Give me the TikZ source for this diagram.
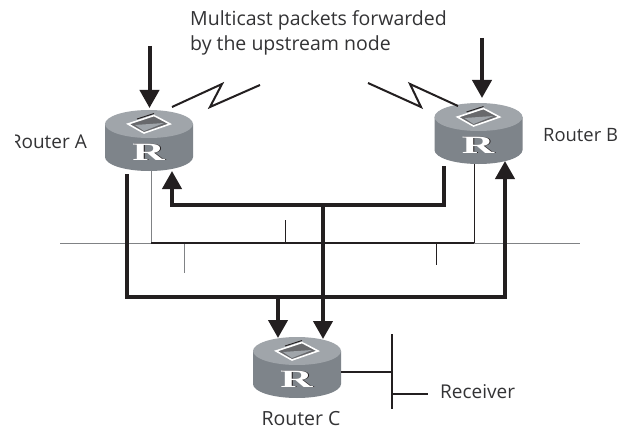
\documentclass[tikz,border=0pt]{standalone}
\usepackage{fontspec}
\setmainfont{Open Sans}
\newfontfamily\rfont{Liberation Serif}
\usetikzlibrary{arrows.meta}
\definecolor{rtop}{HTML}{A0A5AA}
\definecolor{rbody}{HTML}{7E848A}
\definecolor{rink}{HTML}{231F20}
\definecolor{rgrey}{HTML}{808285}
\definecolor{rtext}{HTML}{333335}
\tikzset{
  x=1pt,y=-1pt,
  lab/.style={font=\fontsize{19}{25}\selectfont,text=rtext,inner sep=0pt},
  labwide/.style={lab,font=\fontsize{19.5}{25}\selectfont},
  labnarrow/.style={lab,font=\fontsize{18.4}{25}\selectfont},
  heavy/.style={draw=rink,line width=4pt,miter limit=10},
  heavyarrow/.style={heavy,-{Triangle[length=18pt,width=19pt]}},
  bolt/.style={draw=rink,line width=2pt,line join=miter},
  thin/.style={draw=rink,line width=1pt},
  thingrey/.style={draw=rgrey,line width=1pt},
  medium/.style={draw=rink,line width=2pt},
  pics/router/.style={code={
    \path[fill=rbody] (-44,0) -- (-44,33) arc[start angle=180,end angle=0,x radius=44,y radius=14] -- (44,0) -- cycle;
    \path[fill=rtop] (0,0) ellipse[x radius=44,y radius=14];
    \path[fill=rink!45!rtop] (-20,0) -- (6,-9) -- (20,0) -- (-5,9) -- cycle;
    \path[fill=rtop] (-14,1) -- (15,-1) -- (-5,7) -- cycle;
    \draw[white,line width=1.6pt,line join=miter] (-21,0) -- (5,-8.5) -- (21,0) -- (-5,9) -- cycle;
    \draw[rink,line width=.9pt] (-12,-5) -- (5,-10.5);
    \node[inner sep=0pt,text=rink] (-shadow) at (.5,28.8) {\rfont\bfseries\fontsize{25}{25}\selectfont\scalebox{1.8}[1]{R}};
    \node[inner sep=0pt,text=white] (-letter) at (-.5,28) {\rfont\bfseries\fontsize{25}{25}\selectfont\scalebox{1.8}[1]{R}};
  }}
}
\begin{document}
\begin{tikzpicture}
\useasboundingbox (0,0) rectangle (619,428);
\fill[white] (0,0) rectangle (619,428);

% LAN
\coordinate (lanL) at (60,243);
\coordinate (lanA) at (151,243);
\coordinate (lanB) at (474,243);
\coordinate (lanR) at (580,243);
\coordinate (stubU) at (285,220);
\coordinate (stubUb) at (285,243);
\coordinate (stubD1) at (184,243);
\coordinate (stubD1e) at (184,273);
\coordinate (stubD2) at (436.5,243);
\coordinate (stubD2e) at (436.5,265);
\coordinate (portA) at (151,171);
\coordinate (portB) at (474,163);
\draw[thingrey] (lanL) -- (lanA) -- (portA);
\draw[thingrey] (lanB) -- (lanR);
\draw[thingrey] (stubD1) -- (stubD1e);
\draw[thin] (portB) -- (lanB);
\draw[thin] (stubU) -- (stubUb);
\draw[thin] (stubD2) -- (stubD2e);
\draw[medium,line width=1.6pt] (lanA) -- (lanB);

% routers
\pic (ra) at (149,124) {router};
\pic (rb) at (478.5,117) {router};
\pic (rc) at (297,351) {router};

% labels
\node[labwide,anchor=base west] (title1) at (190,26) {Multicast packets forwarded};
\node[labwide,anchor=base west] (title2) at (190,51) {by the upstream node};
\begin{scope}
\clip (15,120) rectangle (100,165);
\node[lab,anchor=base east] (la) at (87,148) {Router A};
\end{scope}
\node[labnarrow,anchor=base west] (lb) at (543,141) {Router B};
\node[labwide,anchor=base] (lc) at (301,425) {Router C};
\node[lab,anchor=base west] (lr) at (440,398) {Receiver};

% heavy connectors
\coordinate (inA) at (149.5,46);
\coordinate (inAt) at (149.5,108);
\coordinate (inB) at (482,38);
\coordinate (inBt) at (482,98);
\draw[heavyarrow] (inA) -- (inAt);
\draw[heavyarrow] (inB) -- (inBt);

\coordinate (aOut) at (126.5,174);
\coordinate (aBot) at (126.5,297);
\coordinate (bTip) at (505,161);
\coordinate (bBot) at (505,297);
\draw[heavyarrow] (aOut) -- (aBot) -- (bBot) -- (bTip);

\coordinate (bOut) at (444,166);
\coordinate (bTop) at (444,205);
\coordinate (aTop) at (172,205);
\coordinate (aTip) at (172,171);
\draw[heavyarrow] (bOut) -- (bTop) -- (aTop) -- (aTip);

\coordinate (mid) at (323,205);
\coordinate (midTip) at (323,339);
\draw[heavyarrow] (mid) -- (midTip);
\coordinate (mid2) at (278,297);
\coordinate (mid2Tip) at (278,338);
\draw[heavyarrow] (mid2) -- (mid2Tip);

% lightning
\coordinate (z1a) at (172,107);
\coordinate (z1b) at (222,84);
\coordinate (z1c) at (210,107);
\coordinate (z1d) at (260,85);
\draw[bolt] (z1a) -- (z1b) -- (z1c) -- (z1d);
\coordinate (z2a) at (368,83);
\coordinate (z2b) at (421,107);
\coordinate (z2c) at (410,84);
\coordinate (z2d) at (458,106);
\draw[bolt] (z2a) -- (z2b) -- (z2c) -- (z2d);

% receiver
\coordinate (cPort) at (341,371.5);
\coordinate (busJoin) at (391.5,371.5);
\coordinate (busTop) at (391.5,334);
\coordinate (busBot) at (391.5,409);
\coordinate (busRx) at (391.5,394);
\coordinate (rxEnd) at (428,394);
\draw[medium] (cPort) -- (busJoin);
\draw[medium] (busTop) -- (busBot);
\draw[medium] (busRx) -- (rxEnd);
\end{tikzpicture}
\end{document}
